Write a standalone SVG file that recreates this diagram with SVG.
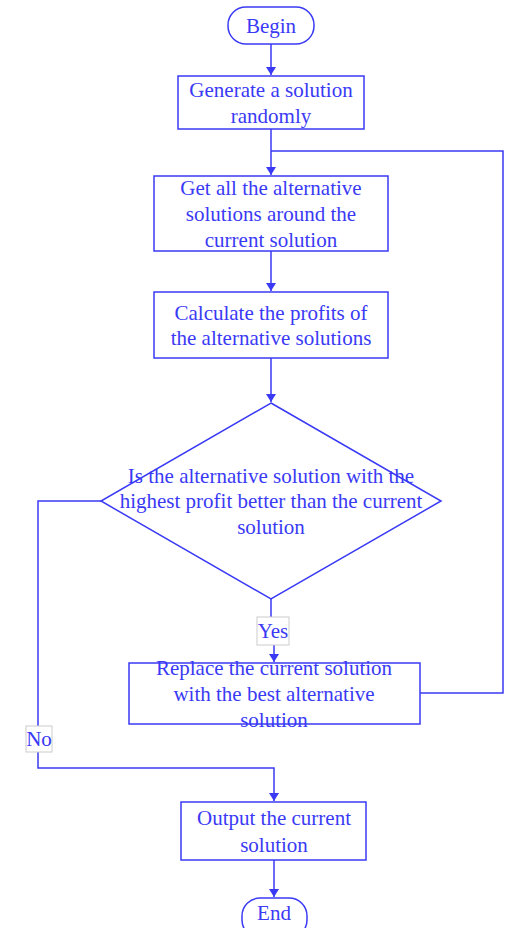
<svg xmlns="http://www.w3.org/2000/svg" width="506" height="928" viewBox="0 0 506 928">
  <style>
    .shape { fill: #ffffff; stroke: #3a3af5; stroke-width: 1.5; }
    .edge { fill: none; stroke: #3a3af5; stroke-width: 1.5; }
    .label { font-family: "Liberation Serif", "Times New Roman", serif; font-size: 21px; fill: #3a3af5; text-anchor: middle; dominant-baseline: central; }
    .tag { fill: #ffffff; stroke: #cccccc; stroke-width: 1; }
  </style>
  <defs>
    <marker id="arrow" viewBox="0 0 8 10" refX="8" refY="5" markerWidth="8" markerHeight="10" markerUnits="userSpaceOnUse" orient="auto">
      <path d="M0,0 L8,5 L0,10 z" fill="#3a3af5"/>
    </marker>
  </defs>
  <rect width="506" height="928" fill="#ffffff"/>

  <g id="connectors">
    <path class="edge" d="M271,44 V75" marker-end="url(#arrow)"/>
    <path class="edge" d="M271,129 V175" marker-end="url(#arrow)"/>
    <path class="edge" d="M271,251 V291" marker-end="url(#arrow)"/>
    <path class="edge" d="M271,358 V402" marker-end="url(#arrow)"/>
    <path class="edge" d="M271,599 V617"/>
    <path class="edge" d="M274,645 V662" marker-end="url(#arrow)"/>
    <path class="edge" d="M420,693 H503 V151 H271"/>
    <path class="edge" d="M101,501 H38 V726"/>
    <path class="edge" d="M38,752 V768 H274 V801" marker-end="url(#arrow)"/>
    <path class="edge" d="M274,860 V897" marker-end="url(#arrow)"/>
    <g id="label-yes">
      <rect class="tag" x="257" y="617" width="32" height="28"/>
      <text class="label" x="273" y="631">Yes</text>
    </g>
    <g id="label-no">
      <rect class="tag" x="26" y="726" width="26" height="26"/>
      <text class="label" x="39" y="739">No</text>
    </g>
  </g>

  <g id="begin">
    <rect class="shape" x="228" y="7" width="86" height="37" rx="18" ry="18"/>
    <text class="label" x="271" y="26">Begin</text>
  </g>

  <g id="generate">
    <rect class="shape" x="178" y="76" width="186" height="53"/>
    <text class="label" x="271" y="90">Generate a solution</text>
    <text class="label" x="271" y="116">randomly</text>
  </g>

  <g id="neighbours">
    <rect class="shape" x="154" y="176" width="234" height="75"/>
    <text class="label" x="271" y="188">Get all the alternative</text>
    <text class="label" x="271" y="214">solutions around the</text>
    <text class="label" x="271" y="240">current solution</text>
  </g>

  <g id="profits">
    <rect class="shape" x="154" y="292" width="234" height="66"/>
    <text class="label" x="271" y="313">Calculate the profits of</text>
    <text class="label" x="271" y="338">the alternative solutions</text>
  </g>

  <g id="decision">
    <polygon class="shape" points="271,403 441,501 271,599 101,501"/>
    <text class="label" x="271" y="476">Is the alternative solution with the</text>
    <text class="label" x="271" y="501">highest profit better than the current</text>
    <text class="label" x="271" y="527">solution</text>
  </g>

  <g id="replace">
    <rect class="shape" x="129" y="663" width="291" height="61"/>
    <text class="label" x="274" y="668">Replace the current solution</text>
    <text class="label" x="274" y="694">with the best alternative</text>
    <text class="label" x="274" y="720">solution</text>
  </g>

  <g id="output">
    <rect class="shape" x="181" y="802" width="185" height="58"/>
    <text class="label" x="274" y="818">Output the current</text>
    <text class="label" x="274" y="845">solution</text>
  </g>

  <g id="end">
    <rect class="shape" x="242" y="898" width="65" height="40" rx="18" ry="18"/>
    <text class="label" x="274" y="913">End</text>
  </g>
</svg>
